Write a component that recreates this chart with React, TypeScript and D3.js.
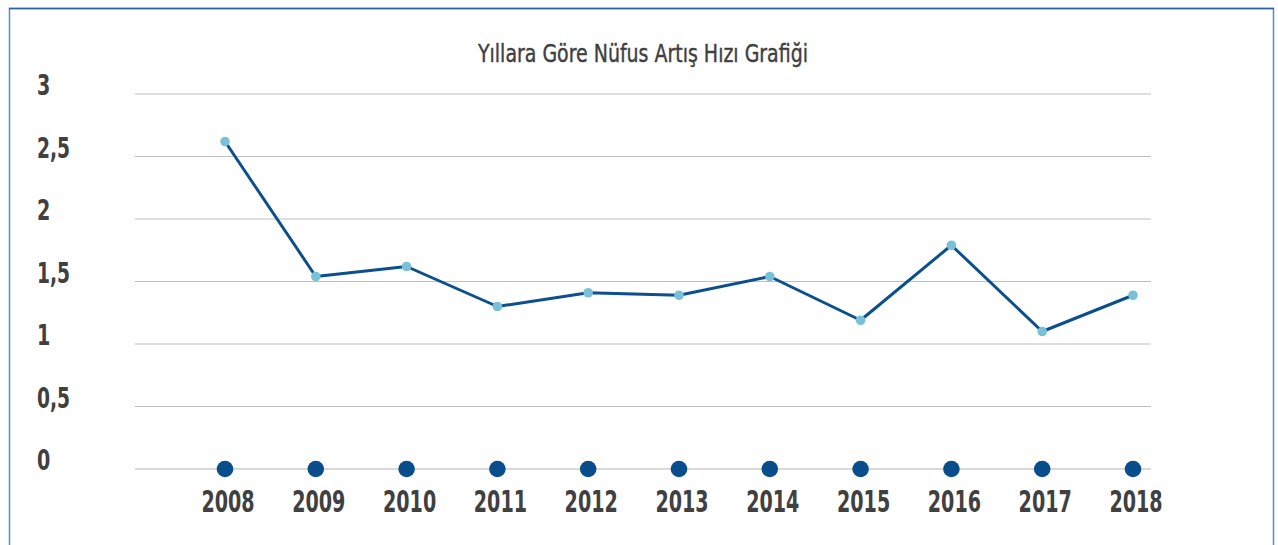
import React from 'react';
import * as d3 from 'd3';

const years = ['2008', '2009', '2010', '2011', '2012', '2013', '2014', '2015', '2016', '2017', '2018'];
const growthRate = [2.62, 1.54, 1.62, 1.3, 1.41, 1.39, 1.54, 1.19, 1.79, 1.1, 1.39];
const yTicks = [0, 0.5, 1, 1.5, 2, 2.5, 3];
const title = 'Yıllara Göre Nüfus Artış Hızı Grafiği';

const W = 1278;
const H = 545;
const FONT = '"DejaVu Sans Condensed", "Liberation Sans Narrow", sans-serif';

// squeeze the condensed font to the narrow look of the original
const labelWidth = (s: string) =>
  s.split('').reduce((w, c) => w + (c === ',' ? 6.5 : 13.3), 0);

export default function App() {
  const gridLeft = 135;
  const gridRight = 1151;

  const x = d3.scalePoint<string>().domain(years).range([225, 1133]);
  const y = d3.scaleLinear().domain([0, 3]).range([469, 94]);

  const line = d3
    .line<number>()
    .x((_, i) => x(years[i]) as number)
    .y((d) => y(d));

  const fmt = (v: number) => String(v).replace('.', ',');

  return (
    <svg
      width={W}
      height={H}
      style={{ position: 'absolute', left: 0, top: 0, background: '#fff' }}
    >
      {/* frame */}
      <rect x={9.5} y={8.5} width={1264} height={560} fill="#fff" stroke="#5a8bc2" strokeWidth={1.5} />
      <line x1={9} x2={1274} y1={8.5} y2={8.5} stroke="#2a649f" strokeWidth={1.5} />

      {/* title */}
      <text
        x={643}
        y={62}
        textAnchor="middle"
        fontFamily={FONT}
        fontSize={24}
        fill="#404040"
        stroke="#404040"
        strokeWidth={0.4}
        textLength={330}
        lengthAdjust="spacingAndGlyphs"
      >
        {title}
      </text>

      {/* grid + y labels */}
      {yTicks.map((t) => (
        <g key={t}>
          <line
            x1={gridLeft}
            x2={gridRight}
            y1={y(t)}
            y2={y(t)}
            stroke={t === 0 ? '#d9d9d9' : '#bfbfbf'}
            strokeWidth={t === 0 ? 2 : 1}
          />
          <text
            x={37}
            y={y(t) + 1}
            fontFamily={FONT}
            fontWeight="bold"
            fontSize={29}
            fill="#404040"
            textLength={labelWidth(fmt(t))}
            lengthAdjust="spacingAndGlyphs"
          >
            {fmt(t)}
          </text>
        </g>
      ))}

      {/* zero-line markers */}
      {years.map((yr) => (
        <circle key={'z' + yr} cx={x(yr)} cy={y(0)} r={8.3} fill="#0a4d8c" />
      ))}

      {/* series */}
      <path d={line(growthRate) || ''} fill="none" stroke="#0b4f8c" strokeWidth={3} strokeLinejoin="round" />
      {growthRate.map((v, i) => (
        <circle key={'p' + i} cx={x(years[i])} cy={y(v)} r={4.8} fill="#79c0d8" />
      ))}

      {/* x labels */}
      {years.map((yr) => (
        <text
          key={'x' + yr}
          x={(x(yr) as number) + 3}
          y={512}
          textAnchor="middle"
          fontFamily={FONT}
          fontWeight="bold"
          fontSize={30}
          fill="#404040"
          textLength={labelWidth(yr)}
          lengthAdjust="spacingAndGlyphs"
        >
          {yr}
        </text>
      ))}
    </svg>
  );
}
